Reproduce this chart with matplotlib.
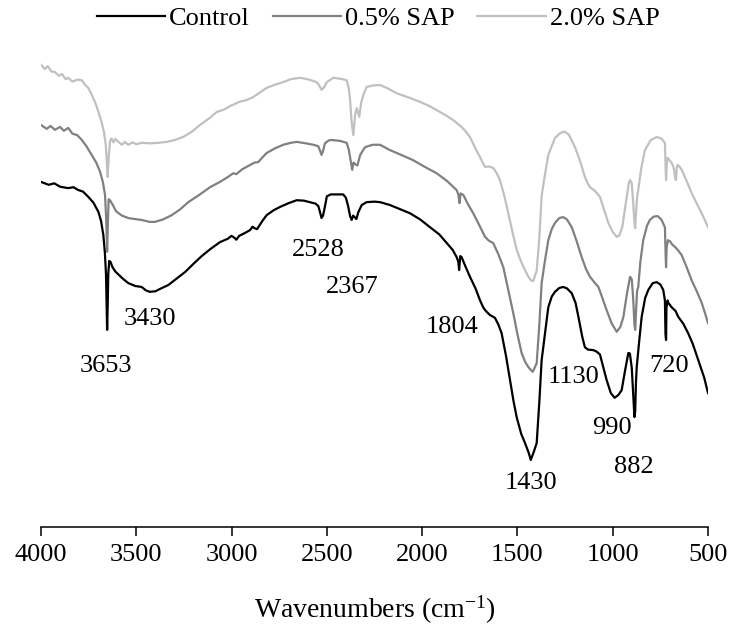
import numpy as np
import matplotlib.pyplot as plt

plt.rcParams['font.family'] = ['Liberation Serif', 'DejaVu Serif']
plt.rcParams['mathtext.fontset'] = 'custom'
plt.rcParams['mathtext.rm'] = 'Liberation Serif'
plt.rcParams['mathtext.it'] = 'Liberation Serif:italic'

# FTIR spectra: wavenumber (cm-1), transmittance (a.u., offset per sample)
control = np.array([
    [4000, 71.6], [3960, 71.0], [3930, 71.3], [3900, 70.6], [3857, 70.3],
    [3830, 70.5], [3804, 69.9], [3780, 69.6], [3752, 68.5], [3725, 67.3],
    [3699, 65.4], [3685, 63.5], [3673, 60.6], [3665, 57.0], [3659, 52.5],
    [3655, 45.0], [3653, 40.9], [3650, 46.0], [3647, 52.5], [3642, 55.2],
    [3635, 55.0], [3626, 54.0], [3610, 53.0], [3594, 52.4], [3570, 51.5],
    [3542, 50.6], [3505, 50.0], [3472, 49.8], [3450, 49.1], [3430, 48.8],
    [3400, 48.9], [3370, 49.5], [3332, 50.2], [3290, 51.5], [3244, 52.9],
    [3200, 54.6], [3157, 56.2], [3110, 57.7], [3061, 59.1], [3020, 59.8],
    [3000, 60.4], [2985, 60.0], [2975, 59.6], [2960, 60.4], [2930, 61.0],
    [2903, 61.6], [2890, 62.3], [2880, 62.0], [2866, 61.8], [2840, 63.4],
    [2816, 64.7], [2780, 65.7], [2746, 66.4], [2700, 67.2], [2658, 67.8],
    [2620, 67.7], [2589, 67.4], [2560, 67.1], [2545, 66.6], [2535, 65.2],
    [2528, 64.1], [2520, 64.6], [2510, 66.5], [2500, 68.6], [2480, 69.0],
    [2440, 69.0], [2414, 69.0], [2400, 68.3], [2388, 66.5], [2378, 64.5],
    [2370, 63.7], [2362, 64.6], [2355, 64.3], [2345, 63.9], [2335, 65.3],
    [2317, 66.8], [2291, 67.4], [2250, 67.5], [2221, 67.4], [2169, 66.8],
    [2120, 66.0], [2064, 65.1], [2010, 63.8], [1959, 62.2], [1910, 60.7],
    [1871, 58.9], [1840, 57.5], [1819, 56.0], [1810, 55.0], [1806, 53.3],
    [1800, 56.2], [1793, 56.0], [1770, 53.8], [1749, 51.9], [1720, 49.5],
    [1697, 47.1], [1680, 45.6], [1670, 45.0], [1645, 44.0], [1618, 43.4],
    [1600, 42.0], [1583, 40.2], [1560, 35.5], [1539, 30.5], [1520, 26.0],
    [1504, 22.8], [1480, 19.3], [1460, 17.4], [1440, 15.3], [1430, 13.9],
    [1415, 15.5], [1399, 17.4], [1385, 26.0], [1373, 34.6], [1355, 40.2],
    [1338, 45.6], [1320, 47.8], [1303, 48.8], [1280, 49.6], [1260, 49.8],
    [1240, 49.5], [1215, 48.5], [1195, 46.5], [1180, 43.6], [1160, 39.5],
    [1146, 37.3], [1130, 36.8], [1102, 36.7], [1085, 36.4], [1067, 35.8],
    [1050, 33.2], [1032, 30.5], [1010, 27.8], [990, 26.8], [970, 27.4],
    [953, 28.4], [935, 32.5], [918, 36.1], [910, 36.0], [900, 33.0],
    [892, 27.0], [886, 22.8], [882, 24.0], [878, 30.0], [874, 33.2],
    [860, 39.0], [848, 43.6], [830, 47.5], [813, 49.2], [790, 50.6],
    [769, 50.8], [750, 50.3], [735, 49.2], [726, 47.0], [723, 40.0],
    [720, 38.8], [718, 45.5], [712, 47.0], [708, 46.5], [691, 45.6],
    [670, 44.8], [656, 43.6], [630, 42.2], [604, 40.2], [580, 38.0],
    [551, 34.6], [520, 31.0], [500, 27.8],
])

sap_05 = np.array([
    [4000, 83.4], [3970, 82.6], [3950, 83.2], [3927, 82.4], [3900, 83.0],
    [3880, 82.2], [3857, 82.8], [3835, 81.6], [3810, 81.3], [3786, 80.3],
    [3760, 78.9], [3734, 77.2], [3710, 75.6], [3690, 73.7], [3675, 71.5],
    [3664, 68.9], [3658, 64.0], [3653, 57.1], [3649, 63.0], [3645, 68.0],
    [3638, 67.8], [3626, 67.0], [3610, 65.8], [3603, 65.4], [3575, 64.6],
    [3542, 64.1], [3510, 63.9], [3472, 63.7], [3430, 63.3], [3402, 63.3],
    [3360, 63.8], [3314, 64.7], [3270, 65.9], [3227, 67.4], [3166, 69.0],
    [3113, 70.5], [3061, 71.6], [3020, 72.6], [2991, 73.4], [2975, 73.2],
    [2945, 74.2], [2903, 75.1], [2880, 75.6], [2860, 75.7], [2840, 76.6],
    [2816, 77.6], [2770, 78.6], [2729, 79.3], [2690, 79.7], [2658, 79.9],
    [2610, 79.6], [2571, 79.3], [2545, 79.0], [2535, 78.0], [2528, 77.2],
    [2520, 78.0], [2510, 79.6], [2490, 80.2], [2475, 80.3], [2430, 80.1],
    [2396, 79.7], [2385, 78.3], [2375, 76.0], [2367, 74.1], [2360, 75.6],
    [2352, 75.3], [2340, 75.0], [2325, 77.2], [2300, 78.8], [2260, 79.3],
    [2221, 79.3], [2169, 78.2], [2110, 77.2], [2047, 76.1], [1990, 74.8],
    [1924, 73.4], [1870, 71.8], [1819, 69.9], [1810, 69.0], [1804, 67.2],
    [1798, 69.2], [1784, 68.9], [1760, 67.0], [1732, 65.1], [1700, 62.6],
    [1670, 60.2], [1650, 59.4], [1627, 58.9], [1600, 56.6], [1574, 53.9],
    [1550, 49.5], [1522, 44.4], [1500, 40.0], [1478, 36.1], [1460, 34.3],
    [1443, 33.2], [1430, 32.6], [1420, 32.2], [1410, 33.0], [1399, 34.0],
    [1385, 42.0], [1373, 50.6], [1355, 55.4], [1338, 59.5], [1320, 61.8],
    [1303, 63.1], [1280, 64.1], [1260, 64.3], [1240, 63.8], [1215, 62.2],
    [1190, 59.4], [1163, 56.0], [1140, 53.5], [1119, 51.9], [1095, 50.7],
    [1075, 49.8], [1055, 47.6], [1032, 45.0], [1005, 42.2], [979, 40.5],
    [960, 41.5], [944, 43.6], [925, 48.5], [909, 51.9], [900, 51.4],
    [892, 47.0], [886, 42.0], [882, 40.9], [878, 44.5], [872, 49.0],
    [866, 49.8], [855, 55.0], [840, 59.5], [820, 62.5], [805, 63.7],
    [785, 64.4], [764, 64.5], [745, 63.8], [726, 62.2], [722, 56.0],
    [720, 53.9], [717, 58.0], [710, 59.5], [700, 59.3], [688, 58.6],
    [673, 58.1], [655, 57.3], [638, 56.4], [612, 53.9], [586, 51.2],
    [560, 49.0], [533, 46.5], [515, 44.3], [500, 42.3],
])

sap_20 = np.array([
    [4000, 95.9], [3980, 95.0], [3965, 95.6], [3945, 94.5], [3927, 94.4],
    [3905, 93.6], [3890, 94.0], [3870, 92.9], [3857, 93.2], [3835, 92.4],
    [3810, 92.8], [3786, 92.7], [3770, 91.8], [3752, 91.1], [3735, 89.8],
    [3717, 88.2], [3700, 86.3], [3682, 84.0], [3670, 82.0], [3660, 79.3],
    [3655, 76.0], [3650, 72.6], [3645, 76.5], [3638, 80.0], [3630, 80.6],
    [3620, 79.8], [3610, 80.5], [3594, 79.9], [3575, 79.3], [3560, 79.9],
    [3542, 79.3], [3520, 79.8], [3500, 79.4], [3472, 79.7], [3430, 79.6],
    [3385, 79.7], [3340, 79.9], [3297, 80.3], [3250, 81.0], [3209, 82.0],
    [3166, 83.4], [3113, 84.9], [3078, 86.1], [3040, 86.6], [3000, 87.5],
    [2991, 87.6], [2960, 88.2], [2920, 88.6], [2886, 89.2], [2850, 90.2],
    [2816, 91.1], [2770, 91.8], [2729, 92.3], [2690, 92.9], [2641, 93.2],
    [2600, 92.9], [2554, 92.3], [2540, 91.6], [2528, 90.7], [2515, 91.2],
    [2500, 92.3], [2466, 93.2], [2430, 93.0], [2396, 92.7], [2385, 91.0],
    [2379, 89.0], [2370, 84.0], [2361, 81.3], [2352, 85.5], [2343, 86.9],
    [2330, 85.1], [2320, 88.0], [2309, 89.6], [2291, 91.3], [2260, 91.6],
    [2221, 91.7], [2180, 91.0], [2134, 90.0], [2070, 89.1], [2011, 88.2],
    [1960, 87.3], [1924, 86.5], [1880, 85.5], [1836, 84.4], [1815, 83.7],
    [1793, 83.0], [1770, 82.0], [1749, 80.9], [1720, 78.5], [1697, 76.8],
    [1680, 75.4], [1670, 74.7], [1650, 74.8], [1627, 74.5], [1610, 73.5],
    [1592, 72.0], [1570, 68.9], [1548, 65.1], [1525, 61.0], [1504, 57.5],
    [1480, 55.0], [1460, 53.3], [1445, 52.1], [1430, 51.2], [1417, 51.0],
    [1405, 52.5], [1399, 53.1], [1385, 60.0], [1373, 68.7], [1355, 73.2],
    [1338, 77.2], [1303, 80.7], [1280, 81.6], [1260, 82.0], [1251, 82.0],
    [1230, 81.4], [1198, 78.8], [1170, 75.8], [1146, 72.6], [1130, 71.2],
    [1119, 70.5], [1095, 69.8], [1067, 68.5], [1045, 65.8], [1023, 63.1],
    [1000, 61.2], [979, 60.2], [965, 60.5], [950, 62.2], [930, 67.5],
    [915, 71.5], [909, 72.0], [900, 71.3], [892, 67.0], [886, 63.0],
    [882, 62.0], [878, 65.0], [872, 68.5], [866, 69.9], [850, 74.5],
    [831, 78.2], [800, 80.3], [769, 80.9], [745, 80.6], [726, 79.7],
    [722, 74.0], [720, 72.0], [717, 75.0], [712, 76.6], [700, 76.0],
    [690, 75.5], [680, 74.5], [672, 72.3], [668, 72.0], [664, 74.5],
    [660, 75.1], [650, 74.8], [638, 74.1], [612, 71.8], [586, 69.3],
    [560, 67.2], [533, 65.1], [515, 63.5], [500, 62.2],
])

# band assignments marked on the control spectrum
peaks = [3653, 3430, 2528, 2367, 1804, 1430, 1130, 990, 882, 720]
label_xy = [(3659, 33.4), (3428, 43.2), (2547, 57.5), (2368, 49.8),
            (1843, 41.5), (1429, 9.1), (1203, 31.1), (1004, 20.5),
            (889, 12.4), (705, 33.4)]

fig = plt.figure(figsize=(7.3, 6.32), dpi=100)
ax = fig.add_axes([41 / 730, 105 / 632, 667 / 730, 482 / 632])

ax.plot(control[:, 0], control[:, 1], color='black', lw=1.6, label='Control')
ax.plot(sap_05[:, 0], sap_05[:, 1], color='#808080', lw=1.6, label='0.5% SAP')
ax.plot(sap_20[:, 0], sap_20[:, 1], color='#c0c0c0', lw=1.6, label='2.0% SAP')

for p, (x, y) in zip(peaks, label_xy):
    ax.text(x, y, str(p), fontsize=19, ha='center', va='center')

ax.set_xlim(4000, 500)
ax.set_ylim(0, 100)
ax.set_xticks(range(4000, 499, -500))
ax.set_yticks([])
for s in ['left', 'right', 'top']:
    ax.spines[s].set_visible(False)
ax.spines['bottom'].set_linewidth(1.1)
ax.tick_params(axis='x', direction='out', length=6.5, width=1.1,
               labelsize=19, pad=5.5)
ax.set_xlabel('Wavenumbers (cm$^{-1}$)', fontsize=20, labelpad=20)

fig.legend(loc='center', bbox_to_anchor=(0.518, 0.971), ncol=3,
           frameon=False, fontsize=19, handlelength=2.6, handletextpad=0.15,
           columnspacing=0.85, borderpad=0, borderaxespad=0)

fig.savefig('out.png', dpi=100)
